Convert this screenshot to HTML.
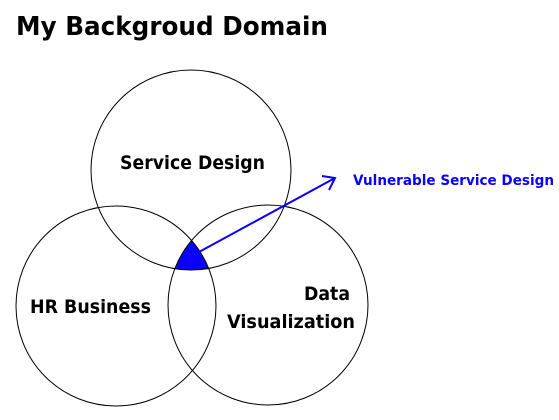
<!DOCTYPE html>
<html><head><meta charset="utf-8"><style>
html,body{margin:0;padding:0;background:#fff;}
svg{display:block;}
text{font-family:"DejaVu Sans","Liberation Sans",sans-serif;font-weight:bold;}
</style></head><body>
<svg width="559" height="420" viewBox="0 0 559 420" xmlns="http://www.w3.org/2000/svg">
<defs>
<clipPath id="cT"><circle cx="191" cy="170" r="100"/></clipPath>
<clipPath id="cL"><circle cx="116" cy="306" r="100"/></clipPath>
</defs>
<text x="16" y="35" font-size="26" textLength="312" lengthAdjust="spacingAndGlyphs">My Backgroud Domain</text>
<g clip-path="url(#cT)"><g clip-path="url(#cL)"><circle cx="268" cy="305" r="100" fill="#0a00ff"/></g></g>
<circle cx="191" cy="170" r="100" fill="none" stroke="#000" stroke-width="1"/>
<circle cx="116" cy="306" r="100" fill="none" stroke="#000" stroke-width="1"/>
<circle cx="268" cy="305" r="100" fill="none" stroke="#000" stroke-width="1"/>
<line x1="199" y1="252" x2="335" y2="178" stroke="#0a00ff" stroke-width="2"/>
<polyline points="322,176 335,178 329,190" fill="none" stroke="#0a00ff" stroke-width="2"/>
<text x="120" y="169" font-size="19" textLength="145" lengthAdjust="spacingAndGlyphs">Service Design</text>
<text x="30" y="313" font-size="19" textLength="121" lengthAdjust="spacingAndGlyphs">HR Business</text>
<text x="304" y="300" font-size="19" textLength="46" lengthAdjust="spacingAndGlyphs">Data</text>
<text x="227" y="328" font-size="19" textLength="128" lengthAdjust="spacingAndGlyphs">Visualization</text>
<text x="353" y="185" font-size="14" fill="#0a00ff" textLength="201" lengthAdjust="spacingAndGlyphs">Vulnerable Service Design</text>
</svg>
</body></html>
